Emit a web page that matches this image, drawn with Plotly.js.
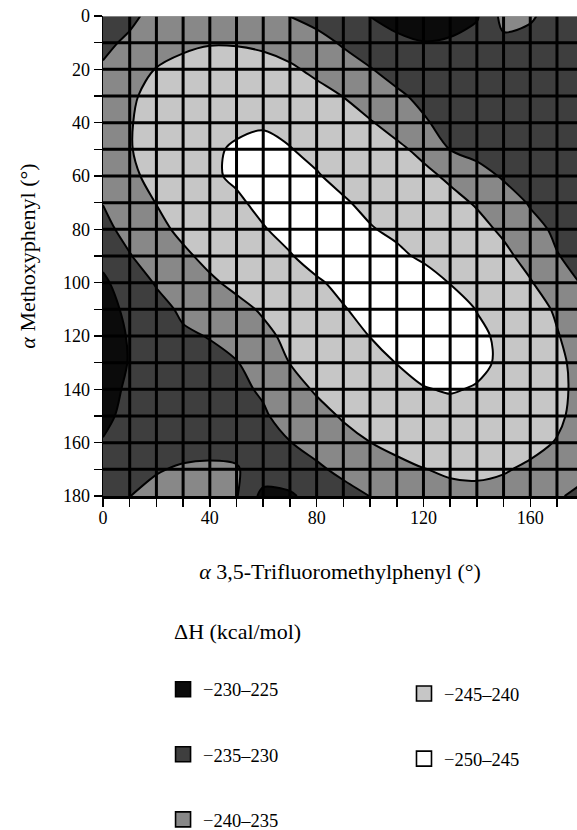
<!DOCTYPE html>
<html>
<head>
<meta charset="utf-8">
<script src="https://cdn.plot.ly/plotly-3.0.1.min.js"></script>
<style>
  html, body { margin: 0; padding: 0; background: #ffffff; overflow: hidden; }
  #chart { width: 577px; height: 830px; }
</style>
</head>
<body>
<div id="chart"></div>
<script>
// ---- data (ΔH, kcal/mol) ----
const trifluoroAngle = [0, 10, 20, 30, 40, 50, 60, 70, 80, 90, 100, 110, 120, 130, 140, 150, 160, 170, 180];
const methoxyAngle   = [0, 10, 20, 30, 40, 50, 60, 70, 80, 90, 100, 110, 120, 130, 140, 150, 160, 170, 180];

// rows: methoxyphenyl angle 0..180 ; columns: trifluoromethylphenyl angle 0..180
const deltaH = [
  [-233, -234, -236.5, -237.5, -238, -238, -237, -234.9, -233.5, -232, -229.9, -227.5, -226.5, -227, -229.5, -236.5, -235.6, -233, -233],
  [-234, -235.8, -237.5, -239, -239.7, -239.6, -239, -238, -236.5, -234.5, -233, -231.5, -230.2, -230.8, -232, -234, -233.5, -233, -233],
  [-235.5, -237.5, -240.2, -241.5, -242.3, -242.5, -242, -240.7, -239, -237, -235.2, -233.5, -232, -231.5, -232, -233, -233.5, -233.5, -233.5],
  [-236.5, -239.3, -241.5, -243, -244, -244.3, -244, -243, -241.5, -239.9, -238, -235.7, -234, -233, -232.5, -233, -233.5, -233.5, -233.5],
  [-237, -239.7, -242, -243.8, -244.6, -244.5, -244.6, -244.3, -243.3, -242, -240.3, -238.5, -235.5, -233.5, -233, -233, -233.5, -233.5, -233.5],
  [-237, -239.7, -242.3, -244, -244.6, -245.3, -246, -245.1, -244.3, -243.3, -242.2, -240.8, -239, -234.9, -233.5, -233, -233, -233.5, -233.5],
  [-236.5, -239, -241.5, -243.5, -244.5, -245.5, -246.5, -246, -245.2, -244.2, -243.3, -242.3, -241, -239.3, -236.8, -234.5, -233.5, -233.5, -233.5],
  [-235.1, -238, -240.1, -242.3, -243.8, -244.5, -245.8, -246.8, -246.3, -245.3, -244.3, -243.3, -242.3, -241.2, -239.6, -237.2, -234.6, -233.5, -233],
  [-234, -236.2, -238.8, -241, -242.7, -243.9, -244.8, -246, -247, -246.6, -245.2, -244.4, -243.5, -242.5, -241.3, -239.3, -236.5, -234.2, -233],
  [-231.5, -234.8, -237, -239.2, -241.2, -242.8, -243.9, -244.8, -246.2, -247.2, -247, -245.6, -244.5, -243.5, -242.5, -241, -238.5, -235.2, -233.5],
  [-229, -233, -235.3, -237.3, -239.3, -241, -242.4, -243.5, -244.6, -245.8, -247, -247.3, -246.4, -244.9, -243.7, -242.5, -240.3, -237.5, -234.5],
  [-227.5, -231.5, -233.8, -235.6, -237.3, -238.8, -240.5, -242.3, -243.6, -244.8, -246, -247.2, -247.5, -246.5, -244.9, -243.6, -242, -239.4, -236.8],
  [-227, -230.5, -232.8, -234.5, -235.15, -237, -239, -241, -242.7, -243.9, -245.05, -246.5, -247.3, -247.2, -245.7, -244.3, -243, -240.3, -237.5],
  [-227, -230.3, -232.3, -233.3, -234.1, -234.8, -237, -240.1, -242, -243.2, -244.2, -245.05, -246.3, -246.8, -245.9, -244.3, -243, -241, -238.3],
  [-227.8, -231, -232.5, -233.3, -233.8, -234.3, -235.4, -238, -240.6, -242.3, -243.4, -244.2, -244.8, -245.3, -244.7, -243.6, -242.5, -240.9, -238.8],
  [-228.8, -231.5, -232.5, -233, -233.3, -233.8, -234.6, -236.3, -238.3, -240.5, -241.8, -242.6, -243.2, -243.5, -243.5, -243.1, -242.3, -240.7, -238.5],
  [-230.3, -232, -232.8, -233.3, -233.6, -233.8, -234.2, -234.9, -236.5, -238.3, -239.95, -241.3, -242, -242.3, -242.3, -241.9, -241, -239.8, -238],
  [-232, -233.5, -234.7, -235.5, -235.7, -235.3, -233, -233, -234.3, -236, -237.3, -238.7, -239.9, -240.5, -240.6, -240.3, -239.4, -237.8, -236.5],
  [-233.5, -234.95, -236.2, -236.7, -236.7, -235.3, -228.5, -229.3, -232, -233.5, -235.05, -236.5, -237.7, -239, -239.2, -238.7, -237.6, -235.6, -233.5]
];

// legend classes (order: left column top→bottom, then right column)
const levelLabels = ['\u2212230\u2013225', '\u2212235\u2013230', '\u2212240\u2013235', '\u2212245\u2013240', '\u2212250\u2013245'];
const levelColors = ['#0b0b0b', '#3e3e3e', '#888888', '#c6c6c6', '#ffffff'];
const levelLegend = ['legend', 'legend', 'legend', 'legend2', 'legend2'];

// ticks
const xTickVals = [0, 10, 20, 30, 40, 50, 60, 70, 80, 90, 100, 110, 120, 130, 140, 150, 160, 170, 180];
const xTickText = ['0', '', '', '', '40', '', '', '', '80', '', '', '', '120', '', '', '', '160', '', ''];
const yTickVals = [0, 10, 20, 30, 40, 50, 60, 70, 80, 90, 100, 110, 120, 130, 140, 150, 160, 170, 180];
const yTickText = ['0', '', '20', '', '40', '', '60', '', '80', '', '100', '', '120', '', '140', '', '160', '', '180'];
const gridVals = [10, 20, 30, 40, 50, 60, 70, 80, 90, 100, 110, 120, 130, 140, 150, 160, 170];

// ---- chart ----
const serif = 'Liberation Serif, Times New Roman, serif';
const W = levelColors[4], L = levelColors[3], M = levelColors[2], D = levelColors[1], B = levelColors[0];

const contourTrace = {
  type: 'contour',
  x: trifluoroAngle,
  y: methoxyAngle,
  z: deltaH,
  autocontour: false,
  contours: { start: -250, end: -225, size: 5, coloring: 'fill', showlines: true },
  colorscale: [[0, W], [0.25, W], [0.25, L], [0.4167, L], [0.4167, M], [0.5833, M], [0.5833, D], [0.75, D], [0.75, B], [1, B]],
  line: { color: '#000000', width: 2, smoothing: 0.9 },
  showscale: false,
  showlegend: false,
  hoverinfo: 'skip'
};

const legendTraces = levelLabels.map((lab, i) => ({
  type: 'scatter',
  mode: 'markers',
  x: [null],
  y: [null],
  name: lab,
  legend: levelLegend[i],
  legendgroup: 'g' + i,
  showlegend: true,
  marker: { symbol: 'square', size: 15, color: levelColors[i], line: { color: '#000000', width: 1.6 } },
  hoverinfo: 'skip'
}));

const shapes = [];
gridVals.forEach(v => {
  shapes.push({ type: 'line', xref: 'x', yref: 'y', x0: v, x1: v, y0: 0, y1: 180, layer: 'above', line: { color: '#000000', width: 3 } });
  shapes.push({ type: 'line', xref: 'x', yref: 'y', x0: 0, x1: 180, y0: v, y1: v, layer: 'above', line: { color: '#000000', width: 3 } });
});
shapes.push({ type: 'line', xref: 'x', yref: 'y', x0: 0, x1: 180, y0: 0, y1: 0, layer: 'above', line: { color: '#9a9a9a', width: 1.5 } });

const legendCommon = {
  orientation: 'v',
  xanchor: 'left',
  yanchor: 'top',
  traceorder: 'grouped',
  tracegroupgap: 38,
  bgcolor: 'rgba(0,0,0,0)',
  borderwidth: 0,
  font: { family: serif, size: 18.5, color: '#000000' },
  itemclick: false,
  itemdoubleclick: false
};

const layout = {
  width: 577,
  height: 830,
  margin: { l: 103, r: 0, t: 16, b: 334, autoexpand: false },
  paper_bgcolor: '#ffffff',
  plot_bgcolor: '#ffffff',
  showlegend: true,
  font: { family: serif, color: '#000000' },
  xaxis: {
    range: [0, 177.5],
    tickmode: 'array',
    tickvals: xTickVals,
    ticktext: xTickText,
    ticks: 'outside',
    ticklen: 8,
    tickwidth: 1.5,
    tickcolor: '#000000',
    ticklabelstandoff: -4,
    showgrid: false,
    zeroline: false,
    showline: true,
    linecolor: '#000000',
    linewidth: 2.5,
    tickfont: { family: serif, size: 18, color: '#000000' },
    title: { text: '<i>\u03b1</i> 3,5-Trifluoromethylphenyl (\u00b0)', font: { family: serif, size: 22, color: '#000000' }, standoff: 37 }
  },
  yaxis: {
    range: [180, 0],
    tickmode: 'array',
    tickvals: yTickVals,
    ticktext: yTickText,
    ticks: 'outside',
    ticklen: 8,
    tickwidth: 1.5,
    tickcolor: '#000000',
    showgrid: false,
    zeroline: false,
    showline: true,
    linecolor: '#000000',
    linewidth: 1.5,
    tickfont: { family: serif, size: 18, color: '#000000' },
    title: { text: '<i>\u03b1</i> Methoxyphenyl (\u00b0)', font: { family: serif, size: 22, color: '#000000' }, standoff: 21 }
  },
  legend: Object.assign({}, legendCommon, { x: 0.1267, y: -0.364 }),
  legend2: Object.assign({}, legendCommon, { x: 0.635, y: -0.373 }),
  annotations: [{
    xref: 'paper', yref: 'paper',
    x: 0.146, y: -0.2833,
    xanchor: 'left', yanchor: 'middle',
    text: '\u0394H (kcal/mol)',
    showarrow: false,
    font: { family: serif, size: 22, color: '#000000' }
  }],
  shapes: shapes
};

Plotly.newPlot('chart', [contourTrace].concat(legendTraces), layout, { displayModeBar: false, staticPlot: true });
</script>
</body>
</html>
